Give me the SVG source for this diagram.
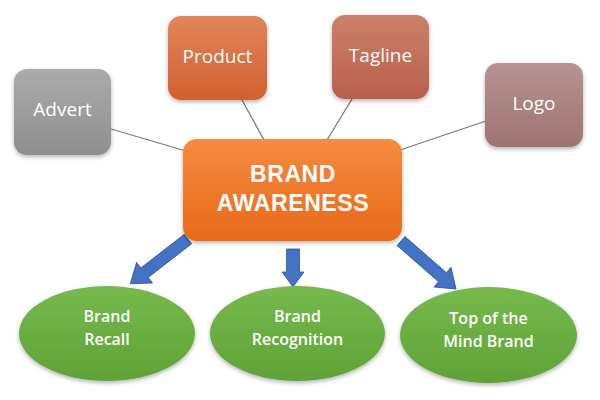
<svg xmlns="http://www.w3.org/2000/svg" width="600" height="400" viewBox="0 0 600 400">
<defs>
<linearGradient id="gGray" x1="0" y1="0" x2="0" y2="1"><stop offset="0" stop-color="#ababab"/><stop offset="1" stop-color="#8e8e8e"/></linearGradient>
<linearGradient id="gProd" x1="0" y1="0" x2="0" y2="1"><stop offset="0" stop-color="#e2855a"/><stop offset="1" stop-color="#d2602e"/></linearGradient>
<linearGradient id="gTag" x1="0" y1="0" x2="0" y2="1"><stop offset="0" stop-color="#cc8068"/><stop offset="1" stop-color="#b9604d"/></linearGradient>
<linearGradient id="gLogo" x1="0" y1="0" x2="0" y2="1"><stop offset="0" stop-color="#b89390"/><stop offset="1" stop-color="#9c7472"/></linearGradient>
<linearGradient id="gCenter" x1="0" y1="0" x2="0" y2="1"><stop offset="0" stop-color="#f58a40"/><stop offset="1" stop-color="#e86a1a"/></linearGradient>
<linearGradient id="gGreen" x1="0" y1="0" x2="0" y2="1"><stop offset="0" stop-color="#76ba4e"/><stop offset="1" stop-color="#5fa236"/></linearGradient>
<filter id="sh" x="-20%" y="-20%" width="140%" height="150%"><feDropShadow dx="0" dy="2" stdDeviation="2" flood-color="#000" flood-opacity="0.3"/></filter>
</defs>
<style>
.lbl{font-family:"Open Sans","Liberation Sans",sans-serif;fill:#fff;text-anchor:middle}
.box{font-size:19px;font-weight:500}
.ell{font-size:16px;font-weight:600}
.ctr{font-family:"Liberation Sans","Open Sans",sans-serif;font-size:23px;font-weight:bold;letter-spacing:0.6px}
.con{stroke:#7a7a7a;stroke-width:1.3;fill:none}
.arr{fill:#4472c4;stroke:#2f5597;stroke-width:0.8}
</style>
<rect width="600" height="400" fill="#fff"/>
<g id="connectors">
<line class="con" x1="111" y1="129" x2="186" y2="151"/>
<line class="con" x1="242" y1="100" x2="264" y2="140"/>
<line class="con" x1="352" y1="99" x2="327" y2="140"/>
<line class="con" x1="486" y1="121" x2="400" y2="150"/>
<path class="arr" transform="translate(188,239) rotate(142.2)" d="M0,-6 L55,-6 L55,-13 L73,0 L55,13 L55,6 L0,6 Z"/>
<path class="arr" transform="translate(293,249) rotate(90)" d="M0,-6.5 L23,-6.5 L23,-11 L38,0 L23,11 L23,6.5 L0,6.5 Z"/>
<path class="arr" transform="translate(401,241) rotate(41.1)" d="M0,-6 L55,-6 L55,-13 L73,0 L55,13 L55,6 L0,6 Z"/>
</g>
<g id="advert"><rect x="14" y="69" width="97" height="86" rx="13" fill="url(#gGray)" filter="url(#sh)"/><text class="lbl box" x="62.5" y="116">Advert</text></g>
<g id="product"><rect x="168" y="16" width="99" height="84" rx="13" fill="url(#gProd)" filter="url(#sh)"/><text class="lbl box" x="217.5" y="63">Product</text></g>
<g id="tagline"><rect x="332" y="15" width="97" height="84" rx="13" fill="url(#gTag)" filter="url(#sh)"/><text class="lbl box" x="380.5" y="62">Tagline</text></g>
<g id="logo"><rect x="485" y="63" width="98" height="84" rx="13" fill="url(#gLogo)" filter="url(#sh)"/><text class="lbl box" x="534" y="110">Logo</text></g>
<g id="brand-awareness"><rect x="183" y="139" width="219" height="102" rx="14" fill="url(#gCenter)" filter="url(#sh)"/><text class="lbl ctr" x="293" y="182">BRAND</text><text class="lbl ctr" x="293" y="211">AWARENESS</text></g>
<g id="brand-recall"><ellipse cx="107" cy="333.5" rx="88" ry="47.5" fill="url(#gGreen)" filter="url(#sh)"/><text class="lbl ell" x="107" y="322">Brand</text><text class="lbl ell" x="107" y="345">Recall</text></g>
<g id="brand-recognition"><ellipse cx="297.5" cy="333.5" rx="87.5" ry="47.5" fill="url(#gGreen)" filter="url(#sh)"/><text class="lbl ell" x="297.5" y="322">Brand</text><text class="lbl ell" x="297.5" y="345">Recognition</text></g>
<g id="top-of-mind"><ellipse cx="488.5" cy="335" rx="88.5" ry="48" fill="url(#gGreen)" filter="url(#sh)"/><text class="lbl ell" x="488.5" y="324">Top of the</text><text class="lbl ell" x="488.5" y="347">Mind Brand</text></g>
</svg>
